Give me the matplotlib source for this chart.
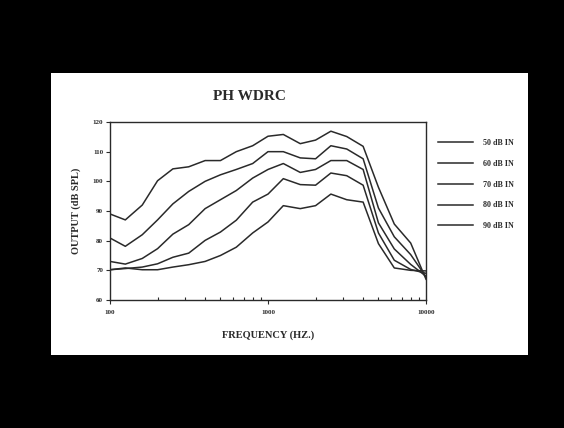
import matplotlib
matplotlib.use("Agg")
import matplotlib.pyplot as plt
from matplotlib.patches import Rectangle

freqs = [100, 125, 160, 200, 250, 315, 400, 500, 630, 800, 1000,
         1250, 1600, 2000, 2500, 3150, 4000, 5000, 6300, 8000, 10000]

out_50 = [70.2, 70.8, 70.2, 70.2, 71.1, 71.9, 73.0, 75.0, 77.8, 82.6, 86.3,
          91.8, 90.8, 91.8, 95.7, 93.8, 93.0, 79.0, 70.8, 70.0, 69.8]
out_60 = [70.2, 70.6, 71.1, 72.2, 74.4, 75.8, 80.1, 82.9, 86.9, 93.0, 95.7,
          100.9, 98.9, 98.7, 102.8, 101.9, 98.7, 82.6, 73.4, 70.3, 69.0]
out_70 = [73.0, 72.1, 74.0, 77.3, 82.2, 85.4, 90.8, 93.8, 96.9, 101.1, 104.0,
          106.0, 103.0, 104.0, 107.0, 107.0, 104.0, 86.0, 77.2, 72.0, 68.0]
out_80 = [80.9, 78.1, 82.0, 87.0, 92.4, 96.6, 100.0, 102.2, 104.0, 106.0, 110.0,
          110.0, 107.9, 107.6, 112.0, 110.9, 107.6, 91.0, 81.3, 75.3, 67.8]
out_90 = [89.0, 87.0, 92.0, 100.2, 104.2, 104.9, 107.0, 107.0, 110.0, 112.0, 115.2,
          115.8, 112.7, 113.9, 116.9, 115.1, 111.8, 98.0, 85.6, 79.2, 67.0]

series = [out_50, out_60, out_70, out_80, out_90]
labels = ["50 dB IN", "60 dB IN", "70 dB IN", "80 dB IN", "90 dB IN"]

y_ticks = [60, 70, 80, 90, 100, 110, 120]
x_ticks = [100, 1000, 10000]
x_ticklabels = ["100", "1000", "10000"]

W, H = 564, 428
fig = plt.figure(figsize=(W / 100, H / 100), dpi=100, facecolor="black")

# white panel
fig.add_artist(Rectangle((51 / W, 1 - 355 / H), 477 / W, 282 / H,
                         transform=fig.transFigure, facecolor="white",
                         edgecolor="none", zorder=0))

serif = ["Liberation Serif", "DejaVu Serif"]
ink = "#2a2a2a"

ax = fig.add_axes([110 / W, 1 - 300 / H, 316 / W, 178 / H])
ax.set_facecolor("white")
lines = []
for vals, lab in zip(series, labels):
    ln, = ax.plot(freqs, vals, color=ink, lw=1.1, label=lab)
    lines.append(ln)

ax.set_xscale("log")
ax.set_xlim(100, 10000)
ax.set_ylim(60, 120)
ax.set_yticks(y_ticks)
ax.set_xticks(x_ticks)
ax.set_xticklabels(x_ticklabels)
for sp in ax.spines.values():
    sp.set_color(ink)
    sp.set_linewidth(1.0)
ax.tick_params(axis="y", direction="out", length=3, width=0.8, color=ink, pad=2)
ax.tick_params(axis="x", which="major", direction="out", length=3, width=0.8, color=ink, pad=4)
ax.tick_params(axis="x", which="minor", direction="in", length=2.5, width=0.8, color=ink)
for lab in ax.get_xticklabels() + ax.get_yticklabels():
    lab.set_fontfamily(serif)
    lab.set_fontweight("bold")
    lab.set_fontsize(5)
    lab.set_color(ink)

ax.set_ylabel("OUTPUT (dB SPL)", fontfamily=serif, fontweight="bold",
              fontsize=7.5, color=ink, labelpad=8)
ax.set_xlabel("FREQUENCY (HZ.)", fontfamily=serif, fontweight="bold",
              fontsize=7.5, color=ink, labelpad=11)

fig.text(249 / W, 1 - 97 / H, "PH WDRC", ha="center", va="center",
         fontfamily=serif, fontweight="bold", fontsize=11, color=ink)

leg = ax.legend(handles=lines, labels=labels, loc="upper left",
                bbox_to_anchor=(438 / W, 1 - 139 / H), bbox_transform=fig.transFigure,
                frameon=False, prop={"family": serif, "weight": "bold", "size": 5.8},
                handlelength=4.35, handletextpad=1.24, labelspacing=1.59,
                borderaxespad=0, borderpad=0)
for t in leg.get_texts():
    t.set_color(ink)

fig.savefig("out.png", dpi=100, facecolor="black")
